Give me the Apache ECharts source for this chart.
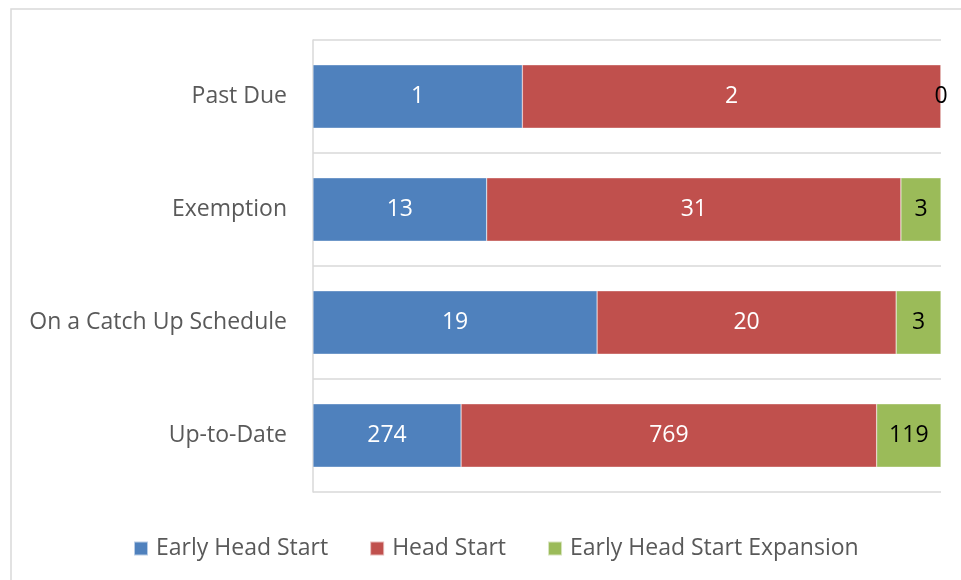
<!DOCTYPE html>
<html>
<head>
<meta charset="utf-8">
<script src="https://cdn.jsdelivr.net/npm/echarts@6/dist/echarts.min.js"></script>
<style>html,body{margin:0;padding:0;background:#fff}#c{width:961px;height:580px}</style>
</head>
<body>
<div id="c"></div>
<script>
var categories = ['Past Due', 'Exemption', 'On a Catch Up Schedule', 'Up-to-Date'];
var seriesNames = ['Early Head Start', 'Head Start', 'Early Head Start Expansion'];
var earlyHeadStart = [1, 13, 19, 274];
var headStart = [2, 31, 20, 769];
var expansion = [0, 3, 3, 119];
var colors = ['#4F81BD', '#C0504D', '#9BBB59'];
var labelColors = ['#ffffff', '#ffffff', '#000000'];

var raw = [earlyHeadStart, headStart, expansion];
var totals = categories.map(function (_, i) { return earlyHeadStart[i] + headStart[i] + expansion[i]; });
var font = '"Open Sans", sans-serif';

var chart = echarts.init(document.getElementById('c'));
chart.setOption({
  animation: false,
  backgroundColor: '#fff',
  grid: { left: 313, right: 20, top: 40, bottom: 88 },
  graphic: [{
    type: 'rect', shape: { x: 11, y: 9, width: 1000, height: 600 },
    style: { fill: 'none', stroke: '#d9d9d9', lineWidth: 1.5 }, silent: true, z: -1
  }],
  legend: {
    left: 128, top: 532, itemWidth: 14, itemHeight: 14, itemGap: 41,
    icon: 'rect',
    textStyle: { fontFamily: font, fontSize: 23, color: '#595959', padding: [0, 0, 0, 3] },
    data: seriesNames
  },
  xAxis: {
    type: 'value', min: 0, max: 100,
    axisLine: { show: false }, axisTick: { show: false }, axisLabel: { show: false },
    splitLine: { show: false }
  },
  yAxis: {
    type: 'category', inverse: true, data: categories,
    axisLine: { show: true, lineStyle: { color: '#d9d9d9', width: 1.5 } },
    axisTick: { show: false },
    axisLabel: { fontFamily: font, fontSize: 23, color: '#595959', margin: 26 },
    splitLine: { show: true, lineStyle: { color: '#d9d9d9', width: 1.5 } }
  },
  series: seriesNames.map(function (name, s) {
    return {
      name: name, type: 'bar', stack: 'total', barWidth: '56%',
      itemStyle: { color: colors[s], borderColor: 'rgba(255,255,255,0.6)', borderWidth: 0.5 },
      label: {
        show: true, position: 'inside', fontFamily: font, fontSize: 23, color: labelColors[s],
        formatter: function (p) { return raw[s][p.dataIndex]; }
      },
      data: raw[s].map(function (v, i) { return v / totals[i] * 100; })
    };
  })
});
</script>
</body>
</html>
